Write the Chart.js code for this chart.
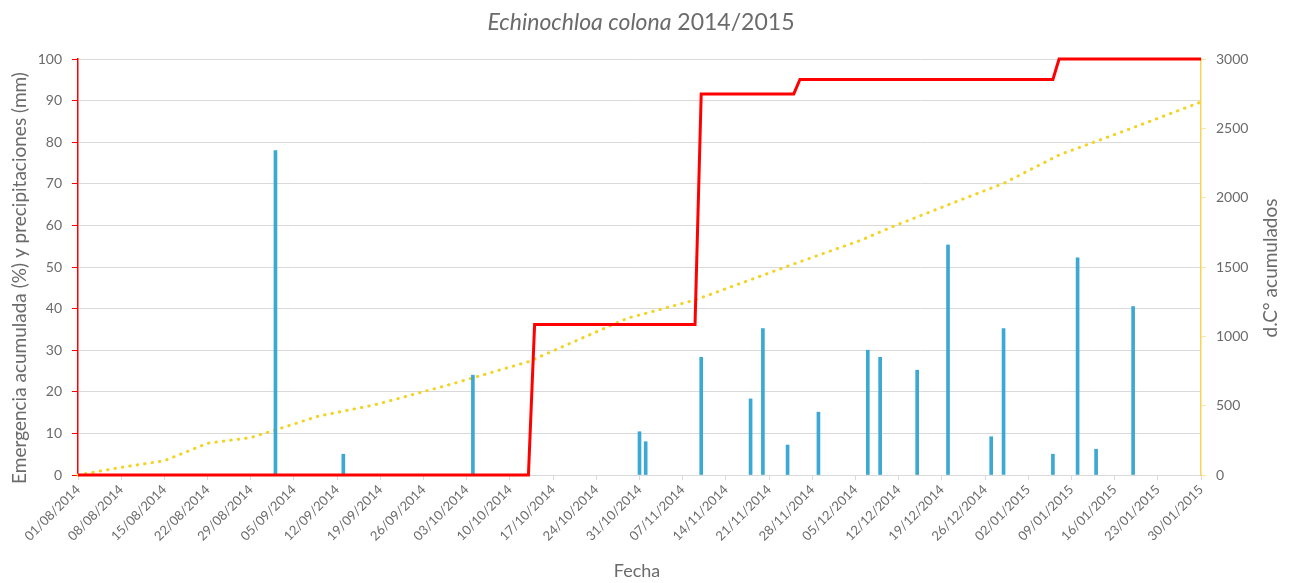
<!DOCTYPE html>
<html>
<head>
<meta charset="utf-8">
<script src="https://cdn.jsdelivr.net/npm/chart.js@4"></script>
<style>
  html, body { margin: 0; padding: 0; background: #fff; }
  #wrap { width: 1290px; height: 583px; position: relative; }
</style>
</head>
<body>
<div id="wrap"><canvas id="chart"></canvas></div>
<script>
// dates are dd/mm/yyyy, day 0 = 01/08/2014
const startDate = '01/08/2014';
const tickLabels = ['01/08/2014', '08/08/2014', '15/08/2014', '22/08/2014', '29/08/2014', '05/09/2014',
  '12/09/2014', '19/09/2014', '26/09/2014', '03/10/2014', '10/10/2014', '17/10/2014', '24/10/2014',
  '31/10/2014', '07/11/2014', '14/11/2014', '21/11/2014', '28/11/2014', '05/12/2014', '12/12/2014',
  '19/12/2014', '26/12/2014', '02/01/2015', '09/01/2015', '16/01/2015', '23/01/2015', '30/01/2015'];

// precipitaciones (mm)
const rainDates = ['02/09/2014', '13/09/2014', '04/10/2014', '31/10/2014', '01/11/2014', '10/11/2014',
  '18/11/2014', '20/11/2014', '24/11/2014', '29/11/2014', '07/12/2014', '09/12/2014', '15/12/2014',
  '20/12/2014', '27/12/2014', '29/12/2014', '06/01/2015', '10/01/2015', '13/01/2015', '19/01/2015'];
const rainMm = [78, 5, 24, 10.4, 8, 28.3, 18.3, 35.2, 7.2, 15.1, 30, 28.3, 25.2, 55.3, 9.2, 35.2, 5, 52.2, 6.2, 40.5];

// emergencia acumulada (%)
const emergDates = ['01/08/2014', '13/10/2014', '14/10/2014', '09/11/2014', '10/11/2014', '25/11/2014',
  '26/11/2014', '06/01/2015', '07/01/2015', '30/01/2015'];
const emergPct = [0, 0, 36.2, 36.2, 91.6, 91.6, 95.1, 95.1, 100, 100];

// grados-dia acumulados
const gddDates = ['01/08/2014', '08/08/2014', '15/08/2014', '22/08/2014', '29/08/2014', '02/09/2014',
  '09/09/2014', '18/09/2014', '30/09/2014', '13/10/2014', '29/10/2014', '09/11/2014', '25/11/2014',
  '06/12/2014', '11/12/2014', '22/12/2014', '29/12/2014', '07/01/2015', '18/01/2015', '30/01/2015'];
const gddValues = [0, 55, 103, 229, 270, 325, 425, 505, 649, 817, 1130, 1262, 1522, 1695, 1791, 1983, 2103, 2308, 2488, 2690];

function dayOf(s) {
  const p = s.split('/'), q = startDate.split('/');
  const d = Date.UTC(+p[2], +p[1] - 1, +p[0]);
  const d0 = Date.UTC(+q[2], +q[1] - 1, +q[0]);
  return Math.round((d - d0) / 86400000);
}
const toPoints = (dates, vals) => dates.map((d, i) => ({ x: dayOf(d), y: vals[i] }));

const FONT = 'Lato';
const GREY = '#6b6b6b';

// titles drawn by hand (mixed italic, rotated right title)
const titlesPlugin = {
  id: 'titles',
  afterDraw(chart) {
    const ctx = chart.ctx;
    ctx.save();
    ctx.fillStyle = GREY;
    ctx.textBaseline = 'middle';
    // main title
    const it = 'Echinochloa colona', rest = ' 2014/2015';
    ctx.font = 'italic 23px ' + FONT;
    const w1 = ctx.measureText(it).width;
    ctx.font = '23px ' + FONT;
    const w2 = ctx.measureText(rest).width;
    const x = 641 - (w1 + w2) / 2;
    ctx.textAlign = 'left';
    ctx.font = 'italic 23px ' + FONT;
    ctx.fillText(it, x, 23);
    ctx.font = '23px ' + FONT;
    ctx.fillText(rest, x + w1, 23);
    // axis titles
    ctx.textAlign = 'center';
    ctx.font = '19px ' + FONT;
    ctx.save();
    ctx.translate(20, 278);
    ctx.rotate(-Math.PI / 2);
    ctx.fillText('Emergencia acumulada (%) y precipitaciones (mm)', 0, 0);
    ctx.restore();
    ctx.save();
    ctx.translate(1271, 268);
    ctx.rotate(-Math.PI / 2);
    ctx.fillText('d.C° acumulados', 0, 0);
    ctx.restore();
    ctx.font = '18px ' + FONT;
    ctx.fillText('Fecha', 637, 571);
    ctx.restore();
  }
};

new Chart(document.getElementById('chart'), {
  type: 'bar',
  data: {
    datasets: [
      {
        type: 'line',
        label: 'Emergencia acumulada (%)',
        data: toPoints(emergDates, emergPct),
        borderColor: '#ff0000',
        borderWidth: 3,
        pointRadius: 0,
        tension: 0,
        clip: false,
        yAxisID: 'y',
        order: 0
      },
      {
        type: 'bar',
        label: 'Precipitaciones (mm)',
        data: toPoints(rainDates, rainMm),
        backgroundColor: '#3ca8d4',
        barThickness: 3,
        yAxisID: 'y',
        order: 1
      },
      {
        type: 'line',
        label: 'd.C° acumulados',
        data: toPoints(gddDates, gddValues),
        borderColor: '#f3d324',
        borderWidth: 3,
        borderDash: [0.5, 7],
        borderCapStyle: 'round',
        pointRadius: 0,
        tension: 0,
        clip: false,
        yAxisID: 'y1',
        order: 2
      }
    ]
  },
  options: {
    responsive: true,
    maintainAspectRatio: false,
    animation: false,
    layout: { padding: { top: 59, left: 0, right: 0, bottom: 0 } },
    plugins: {
      legend: { display: false },
      title: { display: false },
      tooltip: { enabled: false }
    },
    scales: {
      x: {
        type: 'linear',
        min: 0,
        max: 182,
        offset: false,
        grid: { drawOnChartArea: false, offset: false, tickLength: 5, tickColor: '#d9d9d9' },
        border: { color: '#d9d9d9' },
        ticks: {
          stepSize: 7,
          autoSkip: false,
          maxRotation: 45,
          minRotation: 45,
          padding: 2,
          color: GREY,
          font: { family: FONT, size: 13 },
          callback: v => tickLabels[v / 7] || ''
        },
        afterFit: s => { s.height = 108; }
      },
      y: {
        position: 'left',
        min: 0,
        max: 100,
        ticks: { stepSize: 10, padding: 10, color: GREY, font: { family: FONT, size: 14 } },
        grid: { color: '#d9d9d9', tickColor: '#ff0000', tickLength: 6 },
        border: { color: '#ff0000', width: 1.5 },
        afterFit: s => { s.width = 78; }
      },
      y1: {
        position: 'right',
        min: 0,
        max: 3000,
        ticks: {
          stepSize: 500, padding: 10, color: GREY, font: { family: FONT, size: 14 },
          callback: v => String(v)
        },
        grid: { drawOnChartArea: false, tickColor: '#fbe7a0', tickLength: 5 },
        border: { color: '#f8d35a', width: 1.5 },
        afterFit: s => { s.width = 89; }
      }
    }
  },
  plugins: [titlesPlugin]
});
</script>
</body>
</html>
